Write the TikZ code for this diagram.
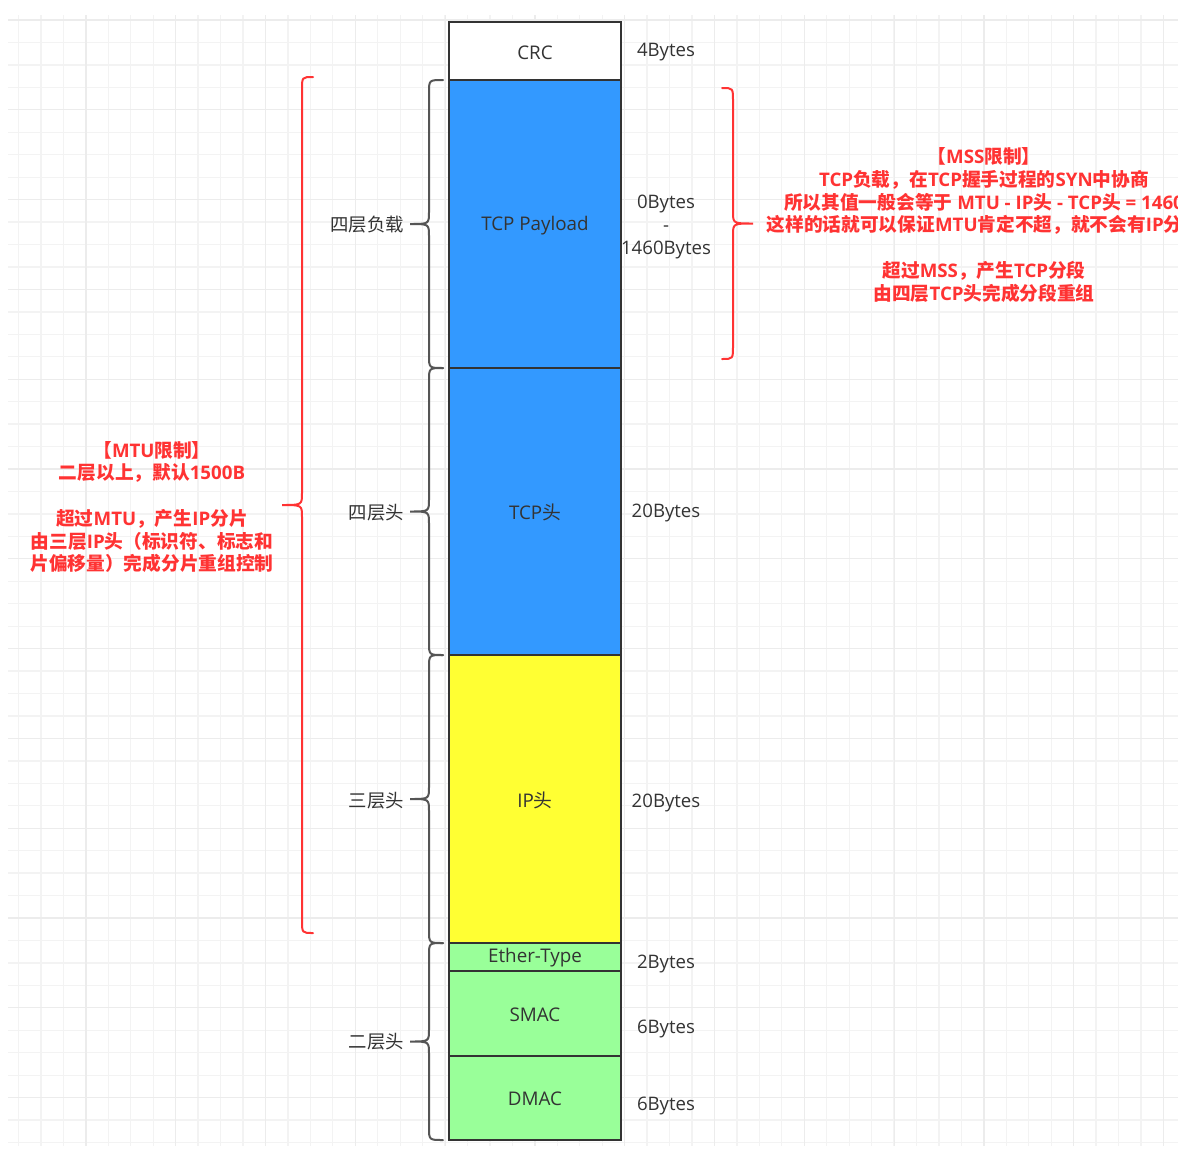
\documentclass[tikz,border=0pt]{standalone}
\usepackage{fontspec}
\setmainfont{Open Sans}
\newfontfamily\cjk{Noto Sans CJK SC}
\newfontfamily\latf{Open Sans}
\newcommand\lt[1]{{\latf #1}}
\newcommand\cj[1]{{\cjk #1}}
\definecolor{gridminor}{HTML}{F3F3F3}
\definecolor{gridmajor}{HTML}{ECECEC}
\definecolor{txtgray}{HTML}{333333}
\definecolor{brcgray}{HTML}{555555}
\definecolor{redtxt}{HTML}{FF3333}
\definecolor{bluefill}{HTML}{3399FF}
\definecolor{yellowfill}{HTML}{FFFF33}
\definecolor{greenfill}{HTML}{99FF99}
\newcommand\mybrc[6]{%
  \draw[#1] (#2,#5) .. controls (#3,#5) .. (#3,{#5+13})
    -- (#3,{(#5+#6)/2-12}) .. controls (#3,{(#5+#6)/2}) .. (#4,{(#5+#6)/2})
    .. controls (#3,{(#5+#6)/2}) .. (#3,{(#5+#6)/2+12})
    -- (#3,{#6-13}) .. controls (#3,#6) .. (#2,#6);}
\tikzset{
  minorline/.style={draw=gridminor, line width=1.3pt},
  majorline/.style={draw=gridmajor, line width=1.3pt},
  cell/.style={draw=txtgray, line width=2.6pt, minimum width=172pt, inner sep=0pt,
     text=txtgray, font=\latf\fontsize{18.8}{22}\selectfont},
  celltext/.style={text=txtgray, font=\latf\fontsize{18.8}{22}\selectfont, inner sep=0pt},
  sizelbl/.style={text=txtgray, font=\latf\fontsize{18.6}{23}\selectfont, align=center, inner sep=0pt},
  layerlbl/.style={text=txtgray, font=\cjk\fontsize{18.4}{22}\selectfont, anchor=east, inner sep=0pt},
  graybrc/.style={draw=brcgray, line width=2pt, line cap=round},
  redbrc/.style={draw=redtxt, line width=2pt, line cap=round},
  note/.style={text=redtxt, font=\cjk\bfseries\fontsize{18.7}{22.7}\selectfont, align=center, inner sep=0pt},
}
\begin{document}
\begin{tikzpicture}[x=1pt, y=-1pt]
\useasboundingbox (0,0) rectangle (1178,1149);
\clip (0,0) rectangle (1178,1149);
\fill[white] (0,0) rectangle (1178,1149);
% grid
\foreach \k in {0,...,51} {\pgfmathsetmacro\xx{18.5+22.45*\k}\draw[minorline] (\xx,15) -- (\xx,1146);}
\foreach \k in {0,...,50} {\pgfmathsetmacro\yy{20+22.45*\k}\draw[minorline] (8,\yy) -- (1178,\yy);}
\foreach \k in {0,...,12} {\pgfmathsetmacro\xx{86+89.8*\k}\draw[majorline] (\xx,15) -- (\xx,1146);}
\foreach \k in {0,...,12} {\pgfmathsetmacro\yy{20+89.8*\k}\draw[majorline] (8,\yy) -- (1178,\yy);}
% column boxes
\node[cell, fill=white, minimum height=58pt] (crc) at (535,51) {};
\node[cell, fill=bluefill, minimum height=288pt] (payload) at (535,224) {};
\node[cell, fill=bluefill, minimum height=287pt] (tcph) at (535,511.5) {};
\node[cell, fill=yellowfill, minimum height=288pt] (iph) at (535,799) {};
\node[cell, fill=greenfill, minimum height=28pt] (ether) at (535,957) {};
\node[cell, fill=greenfill, minimum height=85pt] (smac) at (535,1013.5) {};
\node[cell, fill=greenfill, minimum height=84pt] (dmac) at (535,1098) {};
% column texts
\node[celltext] (tcrc) at (535,52.5) {CRC};
\node[celltext] (tpayload) at (535,225.5) {TCP Payload};
\node[celltext] (ttcph) at (535,512) {TCP\cj{头}};
\node[celltext] (tiph) at (535,800) {IP\cj{头}};
\node[celltext] (tether) at (535,958) {Ether-Type};
\node[celltext] (tsmac) at (535,1014.5) {SMAC};
\node[celltext] (tdmac) at (535,1098.5) {DMAC};
% sizes
\node[sizelbl] (s1) at (666,52.5) {4Bytes};
\node[sizelbl] (s2) at (666,227) {0Bytes\\-\\1460Bytes};
\node[sizelbl] (s3) at (666,513) {20Bytes};
\node[sizelbl] (s4) at (666,803) {20Bytes};
\node[sizelbl] (s5) at (666,964) {2Bytes};
\node[sizelbl] (s6) at (666,1029) {6Bytes};
\node[sizelbl] (s7) at (666,1106) {6Bytes};
% gray braces and layer labels
\mybrc{graybrc}{443}{429}{410}{80}{368}
\mybrc{graybrc}{443}{429}{410}{368}{655}
\mybrc{graybrc}{443}{429}{410}{655}{943}
\mybrc{graybrc}{443}{429}{410}{943}{1140}
\node[layerlbl] (l1) at (404,225) {四层负载};
\node[layerlbl] (l2) at (404,513) {四层头};
\node[layerlbl] (l3) at (404,801) {三层头};
\node[layerlbl] (l4) at (404,1042) {二层头};
% red braces
\mybrc{redbrc}{313}{302}{282}{77}{933}
\mybrc{redbrc}{722}{733}{753}{88}{359}
% notes
\node[note] (mss) at (984,225) {【\lt{MSS}限制】\\\lt{TCP}负载，在\lt{TCP}握手过程的\lt{SYN}中协商\\所以其值一般会等于\lt{ MTU - IP}头\lt{ - TCP}头\lt{ = 1460}\\这样的话就可以保证\lt{MTU}肯定不超，就不会有\lt{IP}分片\\[22.7pt]超过\lt{MSS}，产生\lt{TCP}分段\\由四层\lt{TCP}头完成分段重组};
\node[note] (mtu) at (152,507) {【\lt{MTU}限制】\\二层以上，默认\lt{1500B}\\[22.7pt]超过\lt{MTU}，产生\lt{IP}分片\\由三层\lt{IP}头（标识符、标志和\\片偏移量）完成分片重组控制};
\end{tikzpicture}
\end{document}
